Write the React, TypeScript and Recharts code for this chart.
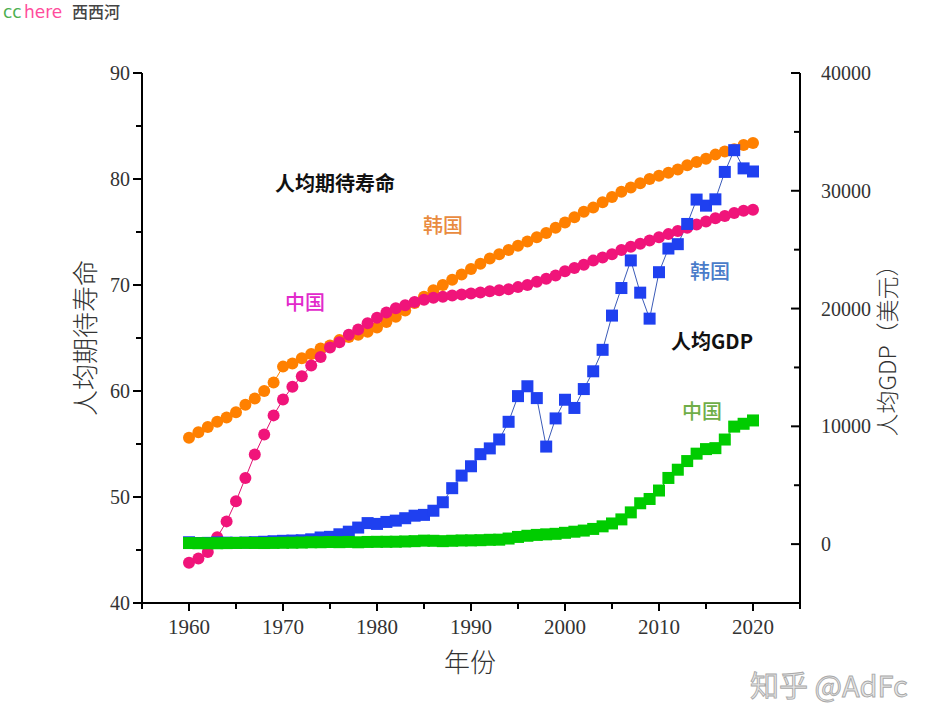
import React from "react";
import { ComposedChart, Line, XAxis, YAxis } from "recharts";

const years: number[] = [];
for (let y = 1960; y <= 2020; y++) years.push(y);

const koreaLife = [
  55.6, 56.1, 56.6, 57.1, 57.5, 58.0, 58.7, 59.3, 60.0, 60.8,
  62.3, 62.6, 63.1, 63.5, 64.0, 64.3, 64.8, 65.1, 65.3, 65.6,
  66.0, 66.5, 67.0, 67.6, 68.3, 68.9, 69.5, 70.0, 70.5, 71.0,
  71.5, 72.0, 72.5, 72.9, 73.3, 73.7, 74.1, 74.5, 74.9, 75.4,
  75.9, 76.4, 76.9, 77.3, 77.8, 78.3, 78.8, 79.2, 79.6, 80.0,
  80.3, 80.6, 80.9, 81.3, 81.6, 81.9, 82.3, 82.6, 82.8, 83.2,
  83.4,
];

const chinaLife = [
  43.8, 44.2, 44.8, 46.2, 47.7, 49.6, 51.8, 54.0, 55.9, 57.7,
  59.2, 60.4, 61.4, 62.4, 63.2, 64.1, 64.6, 65.3, 65.8, 66.4,
  66.9, 67.4, 67.8, 68.1, 68.4, 68.6, 68.8, 68.9, 69.0, 69.1,
  69.2, 69.3, 69.4, 69.5, 69.6, 69.8, 70.0, 70.3, 70.6, 70.9,
  71.3, 71.6, 71.9, 72.3, 72.6, 72.9, 73.3, 73.6, 73.9, 74.2,
  74.5, 74.8, 75.1, 75.4, 75.7, 76.0, 76.3, 76.5, 76.8, 77.0,
  77.1,
];

const koreaGdp = [
  158, 94, 106, 146, 124, 109, 133, 161, 199, 243,
  279, 301, 324, 406, 563, 617, 834, 1055, 1405, 1784,
  1715, 1883, 1993, 2199, 2413, 2482, 2835, 3555, 4749, 5817,
  6610, 7637, 8127, 8885, 10385, 12565, 13403, 12398, 8282, 10672,
  12257, 11561, 13165, 14673, 16496, 19403, 21743, 24086, 21350, 19144,
  23087, 25096, 25467, 27183, 29253, 28737, 29274, 31601, 33447, 31902,
  31638,
];

const chinaGdp = [
  90, 76, 70, 74, 85, 98, 104, 97, 91, 100,
  113, 119, 132, 157, 160, 178, 165, 185, 156, 184,
  195, 197, 203, 225, 251, 294, 282, 252, 284, 311,
  318, 333, 366, 377, 473, 610, 709, 782, 829, 873,
  959, 1053, 1149, 1289, 1509, 1753, 2099, 2694, 3468, 3832,
  4550, 5618, 6317, 7051, 7679, 8067, 8148, 8879, 9977, 10217,
  10500,
];

const xTicks = [1955, 1960, 1965, 1970, 1975, 1980, 1985, 1990, 1995, 2000, 2005, 2010, 2015, 2020, 2025];
const leftTicks = [40, 45, 50, 55, 60, 65, 70, 75, 80, 85, 90];
const rightTicks = [-5000, 0, 5000, 10000, 15000, 20000, 25000, 30000, 35000, 40000];

const data = years.map((year, i) => ({
  year,
  krLife: koreaLife[i],
  cnLife: chinaLife[i],
  krGdp: koreaGdp[i],
  cnGdp: chinaGdp[i],
}));

const NUM_FONT = "'Liberation Serif', 'DejaVu Serif', serif";
const CJK_FONT = "'Noto Sans CJK SC', 'Noto Sans', sans-serif";

const LeftTick = (props: any) => {
  const { x, y, payload } = props;
  const v = payload.value;
  const major = v % 10 === 0;
  return (
    <g>
      <line x1={x} x2={x - (major ? 9 : 6)} y1={y} y2={y} stroke="#000" strokeWidth={2} />
      {major && (
        <text x={x - 12} y={y} dy="0.35em" textAnchor="end" fontFamily={NUM_FONT} fontSize={20} fill="#333">
          {v}
        </text>
      )}
    </g>
  );
};

const RightTick = (props: any) => {
  const { x, y, payload } = props;
  const v = payload.value;
  const major = v % 10000 === 0;
  return (
    <g>
      <line x1={x} x2={x - (major ? 9 : 6)} y1={y} y2={y} stroke="#000" strokeWidth={2} />
      {major && v >= 0 && (
        <text x={x + 21} y={y} dy="0.35em" textAnchor="start" fontFamily={NUM_FONT} fontSize={20} fill="#333">
          {v}
        </text>
      )}
    </g>
  );
};

const BottomTick = (props: any) => {
  const { x, y, payload } = props;
  const v = payload.value;
  const major = v % 10 === 0;
  return (
    <g>
      <line x1={x} x2={x} y1={y} y2={y + (major ? 8 : 6)} stroke="#000" strokeWidth={2} />
      {major && (
        <text x={x} y={y + 31} textAnchor="middle" fontFamily={NUM_FONT} fontSize={21} fill="#333">
          {v}
        </text>
      )}
    </g>
  );
};

const circleDot = (color: string) => (p: any) => (
  <circle key={`c${p.index}`} cx={p.cx} cy={p.cy} r={6} fill={color} stroke="none" />
);

const squareDot = (color: string, w: number, h: number) => (p: any) => (
  <rect key={`s${p.index}`} x={p.cx - w / 2} y={p.cy - h / 2} width={w} height={h} fill={color} stroke="none" />
);

export default function App() {
  return (
    <div style={{ position: "absolute", left: 0, top: 0, width: 950, height: 722, background: "#fff" }}>
      <ComposedChart
        width={950}
        height={722}
        data={data}
        margin={{ top: 73, right: 90, bottom: 59, left: 82 }}
      >
        <XAxis
          xAxisId="x"
          dataKey="year"
          type="number"
          domain={[1955, 2025]}
          ticks={xTicks}
          interval={0}
          tickSize={0}
          tickMargin={0}
          tickLine={false}
          tick={<BottomTick />}
          axisLine={{ stroke: "#000", strokeWidth: 2 }}
          height={60}
          allowDataOverflow
        />
        <XAxis
          xAxisId="top"
          dataKey="year"
          type="number"
          orientation="top"
          domain={[1955, 2025]}
          tick={false}
          tickLine={false}
          axisLine={{ stroke: "#000", strokeWidth: 2 }}
          height={0}
        />
        <YAxis
          yAxisId="left"
          type="number"
          domain={[40, 90]}
          ticks={leftTicks}
          interval={0}
          tickSize={0}
          tickMargin={0}
          tickLine={false}
          tick={<LeftTick />}
          axisLine={{ stroke: "#000", strokeWidth: 2 }}
          width={60}
          allowDataOverflow
        />
        <YAxis
          yAxisId="right"
          orientation="right"
          type="number"
          domain={[-5000, 40000]}
          ticks={rightTicks}
          interval={0}
          tickSize={0}
          tickMargin={0}
          tickLine={false}
          tick={<RightTick />}
          axisLine={{ stroke: "#000", strokeWidth: 2 }}
          width={60}
          allowDataOverflow
        />
        <Line
          xAxisId="x"
          yAxisId="left"
          dataKey="krLife"
          stroke="#FF8000"
          strokeWidth={1}
          dot={circleDot("#FF8000")}
          activeDot={false}
          isAnimationActive={false}
        />
        <Line
          xAxisId="x"
          yAxisId="left"
          dataKey="cnLife"
          stroke="#E0106F"
          strokeWidth={1}
          dot={circleDot("#F0147A")}
          activeDot={false}
          isAnimationActive={false}
        />
        <Line
          xAxisId="x"
          yAxisId="right"
          dataKey="krGdp"
          stroke="#3B5BB8"
          strokeWidth={1}
          dot={squareDot("#1F40F0", 12, 12)}
          activeDot={false}
          isAnimationActive={false}
        />
        <Line
          xAxisId="x"
          yAxisId="right"
          dataKey="cnGdp"
          stroke="#00CC00"
          strokeWidth={1}
          dot={squareDot("#00CC00", 12, 12)}
          activeDot={false}
          isAnimationActive={false}
        />
      </ComposedChart>
      <svg
        width={950}
        height={722}
        style={{ position: "absolute", left: 0, top: 0, pointerEvents: "none" }}
      >
        <text x={3} y={18} fontFamily="'DejaVu Sans', sans-serif" fontSize={17} fill="#4CAF50">cc</text>
        <text x={24} y={18} fontFamily="'DejaVu Sans', sans-serif" fontSize={17} fill="#FF4C9C">here</text>
        <text x={72} y={18} fontFamily={CJK_FONT} fontSize={16} fontWeight={500} fill="#444">西西河</text>

        <text x={335} y={184} dy="0.35em" textAnchor="middle" fontFamily={CJK_FONT} fontSize={20} fontWeight={700} fill="#111">人均期待寿命</text>
        <text x={443} y={226} dy="0.35em" textAnchor="middle" fontFamily={CJK_FONT} fontSize={20} fontWeight={500} fill="#E98B3F">韩国</text>
        <text x={305} y={303} dy="0.35em" textAnchor="middle" fontFamily={CJK_FONT} fontSize={20} fontWeight={500} fill="#E22ACB">中国</text>
        <text x={710} y={272} dy="0.35em" textAnchor="middle" fontFamily={CJK_FONT} fontSize={20} fontWeight={500} fill="#4A7CC9">韩国</text>
        <text x={712} y={342} dy="0.35em" textAnchor="middle" fontFamily={CJK_FONT} fontSize={20} fontWeight={700} fill="#111">人均GDP</text>
        <text x={702} y={412} dy="0.35em" textAnchor="middle" fontFamily={CJK_FONT} fontSize={20} fontWeight={500} fill="#6FAE48">中国</text>

        <text x={86} y={338} dy="0.35em" textAnchor="middle" transform="rotate(-90 86 338)" fontFamily={CJK_FONT} fontSize={26} fontWeight={300} fill="#333">人均期待寿命</text>
        <text x={888} y={345} dy="0.35em" textAnchor="middle" transform="rotate(-90 888 345)" fontFamily={CJK_FONT} fontSize={23} fontWeight={300} fill="#333">人均GDP（美元）</text>
        <text x={470} y={663} dy="0.35em" textAnchor="middle" fontFamily={CJK_FONT} fontSize={26} fontWeight={300} fill="#333">年份</text>

        <text x={750} y={697} fontFamily={CJK_FONT} fontSize={29} fill="#E6E6E6" stroke="#A8A8A8" strokeWidth={0.9}>知乎 @AdFc</text>
      </svg>
    </div>
  );
}
